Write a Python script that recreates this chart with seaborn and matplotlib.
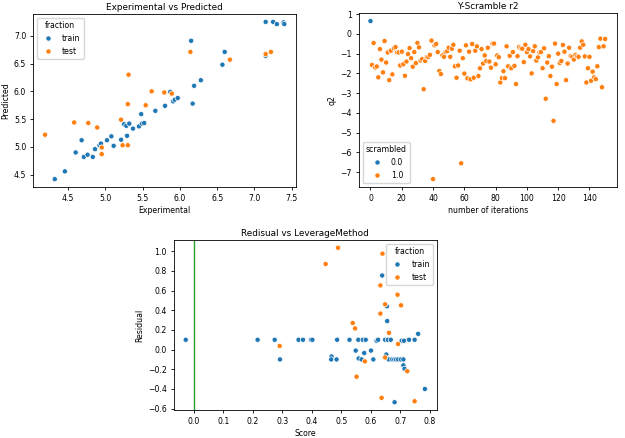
import numpy as np
import pandas as pd
import matplotlib
matplotlib.use('Agg')
import matplotlib.pyplot as plt
from matplotlib.ticker import MultipleLocator
import seaborn as sns

# Experimental vs Predicted
train_exp = [4.32, 4.455, 4.60, 4.68, 4.71, 4.76, 4.83, 4.86, 4.92, 4.94, 5.02, 5.08, 5.11,
             5.21, 5.25, 5.28, 5.29, 5.32, 5.37, 5.45, 5.48, 5.49, 5.52, 5.67, 5.80, 5.87,
             5.91, 5.93, 5.97, 6.15, 6.17, 6.19, 6.28, 6.57, 6.60, 7.15, 7.15, 7.25, 7.30,
             7.39, 7.40]
train_pred = [4.42, 4.56, 4.90, 5.12, 4.82, 4.86, 4.82, 4.96, 5.03, 5.06, 5.12, 5.19, 5.02,
              5.13, 5.41, 5.38, 5.20, 5.42, 5.33, 5.37, 5.59, 5.42, 5.43, 5.65, 5.74, 5.99,
              5.82, 5.85, 5.88, 6.91, 5.78, 6.10, 6.20, 6.48, 6.71, 6.64, 7.25, 7.25, 7.21,
              7.24, 7.21]
test_exp = [4.19, 4.58, 4.77, 4.89, 4.95, 4.95, 5.21, 5.23, 5.30, 5.30, 5.31, 5.54, 5.62,
            5.79, 5.89, 6.14, 6.67, 7.15, 7.22]
test_pred = [5.22, 5.44, 5.43, 5.35, 4.99, 4.87, 5.49, 5.03, 5.03, 5.77, 6.30, 5.75, 6.00,
             5.98, 5.96, 6.71, 6.57, 6.67, 6.71]

# Y-Scramble
q2_values = [0.65,
             -1.57, -0.46, -1.70, -1.65, -2.20, -0.77, -1.30, -1.95, -0.36, -1.45,
             -0.94, -2.34, -0.85, -2.05, -0.73, -0.67, -0.94, -0.94, -1.60, -0.90,
             -1.54, -2.12, -1.40, -1.02, -0.72, -1.23, -1.66, -0.92, -1.48, -0.46,
             -0.68, -1.35, -1.28, -2.80, -1.37, -1.18, -1.16, -1.06, -0.34, -7.35,
             -0.58, -0.51, -0.92, -1.88, -2.03, -1.09, -1.16, -0.92, -0.87, -0.70,
             -1.16, -0.75, -0.55, -1.64, -2.22, -1.60, -0.85, -6.55, -1.23, -2.01,
             -0.58, -2.25, -0.90, -2.30, -0.51, -2.22, -0.85, -0.63, -2.13, -1.74,
             -0.77, -1.50, -1.09, -1.38, -0.70, -1.40, -1.71, -0.49, -0.49, -1.54,
             -1.09, -1.18, -2.46, -2.24, -1.89, -2.24, -0.63, -1.64, -1.11, -1.74,
             -0.92, -1.62, -2.54, -1.13, -0.67, -0.73, -0.75, -1.43, -0.55, -0.92,
             -0.77, -1.14, -2.00, -0.87, -0.63, -1.35, -1.19, -0.94, -0.92, -1.74,
             -0.73, -3.28, -1.45, -1.13, -2.13, -1.66, -4.40, -0.49, -2.54, -1.00,
             -1.47, -1.37, -0.56, -0.90, -2.34, -1.50, -0.70, -1.13, -1.16, -1.30,
             -1.06, -1.14, -1.16, -0.70, -0.38, -0.55, -1.14, -2.46, -1.74, -1.16,
             -2.37, -1.91, -2.20, -2.29, -1.64, -0.67, -0.24, -2.70, -0.63, -0.26]
scrambled = [0.0] + [1.0] * (len(q2_values) - 1)

# Residual vs Leverage
res_train_score = [-0.028, 0.216, 0.274, 0.292, 0.355, 0.370, 0.397, 0.402, 0.467, 0.466,
                   0.484, 0.486, 0.528, 0.549, 0.558, 0.559, 0.569, 0.573, 0.578, 0.583,
                   0.601, 0.609, 0.620, 0.625, 0.639, 0.649, 0.653, 0.655, 0.656, 0.658,
                   0.661, 0.668, 0.673, 0.680, 0.681, 0.686, 0.693, 0.702, 0.705, 0.711,
                   0.713, 0.711, 0.715, 0.730, 0.749, 0.761, 0.784]
res_train_resid = [0.10, 0.10, 0.10, -0.10, 0.10, 0.10, 0.10, 0.10, -0.07, -0.10,
                   -0.10, 0.10, 0.10, -0.01, 0.10, -0.09, -0.10, 0.10, -0.035, 0.10,
                   -0.01, -0.10, 0.09, 0.10, 0.753, 0.10, -0.05, 0.44, 0.29, 0.10,
                   -0.10, 0.10, -0.10, -0.10, -0.535, -0.10, -0.10, -0.10, 0.09, -0.10,
                   0.09, -0.16, -0.195, 0.10, 0.10, 0.16, -0.40]
res_test_score = [0.447, 0.489, 0.291, 0.539, 0.547, 0.552, 0.580, 0.640, 0.633, 0.691,
                  0.649, 0.703, 0.633, 0.662, 0.693, 0.649, 0.724, 0.637, 0.749]
res_test_resid = [0.87, 1.035, 0.037, 0.27, 0.215, -0.275, -0.12, 0.975, 0.652, 0.558,
                  0.46, 0.45, 0.366, 0.17, 0.057, -0.08, -0.22, -0.49, -0.525]

df_pred = pd.DataFrame({
    'Experimental': train_exp + test_exp,
    'Predicted': train_pred + test_pred,
    'fraction': ['train'] * len(train_exp) + ['test'] * len(test_exp),
})
df_scr = pd.DataFrame({
    'number of iterations': np.arange(len(q2_values)),
    'q2': q2_values,
    'scrambled': scrambled,
})
df_res = pd.DataFrame({
    'Score': res_train_score + res_test_score,
    'Residual': res_train_resid + res_test_resid,
    'fraction': ['train'] * len(res_train_score) + ['test'] * len(res_test_score),
})

plt.rcParams.update({'font.size': 5.6, 'axes.titlesize': 6.4, 'axes.labelsize': 5.6,
                     'xtick.labelsize': 5.6, 'ytick.labelsize': 5.6, 'legend.fontsize': 5.6,
                     'legend.title_fontsize': 5.6, 'axes.linewidth': 0.6,
                     'xtick.major.width': 0.6, 'ytick.major.width': 0.6,
                     'xtick.major.size': 2.5, 'ytick.major.size': 2.5,
                     'xtick.major.pad': 2.5, 'ytick.major.pad': 2.5, 'axes.labelpad': 2.5})

fig = plt.figure(figsize=(6.25, 4.38), dpi=100)
ax1 = fig.add_axes([0.053, 0.573, 0.421, 0.395])
ax2 = fig.add_axes([0.574, 0.573, 0.413, 0.397])
ax3 = fig.add_axes([0.278, 0.064, 0.421, 0.388])

pal = {'train': '#1f77b4', 'test': '#ff7f0e'}

sns.scatterplot(data=df_pred, x='Experimental', y='Predicted', hue='fraction',
                palette=pal, s=14, linewidth=0.5, ax=ax1)
ax1.set_title('Experimental vs Predicted', pad=3)
ax1.xaxis.set_major_locator(MultipleLocator(0.5))
ax1.yaxis.set_major_locator(MultipleLocator(0.5))
ax1.legend(title='fraction', loc='upper left')

sns.scatterplot(data=df_scr, x='number of iterations', y='q2', hue='scrambled',
                palette={0.0: '#1f77b4', 1.0: '#ff7f0e'}, s=14, linewidth=0.5, ax=ax2)
ax2.set_title('Y-Scramble r2', pad=3)
ax2.xaxis.set_major_locator(MultipleLocator(20))
ax2.yaxis.set_major_locator(MultipleLocator(1))
ax2.legend(title='scrambled', loc='lower left')

sns.scatterplot(data=df_res, x='Score', y='Residual', hue='fraction',
                palette=pal, s=14, linewidth=0.5, ax=ax3)
ax3.axvline(0, color='#2ca02c', lw=1)
ax3.set_title('Redisual vs LeverageMethod', pad=3)
ax3.xaxis.set_major_locator(MultipleLocator(0.1))
ax3.yaxis.set_major_locator(MultipleLocator(0.2))
ax3.legend(title='fraction', loc='upper right')

fig.savefig('out.png', dpi=100)
